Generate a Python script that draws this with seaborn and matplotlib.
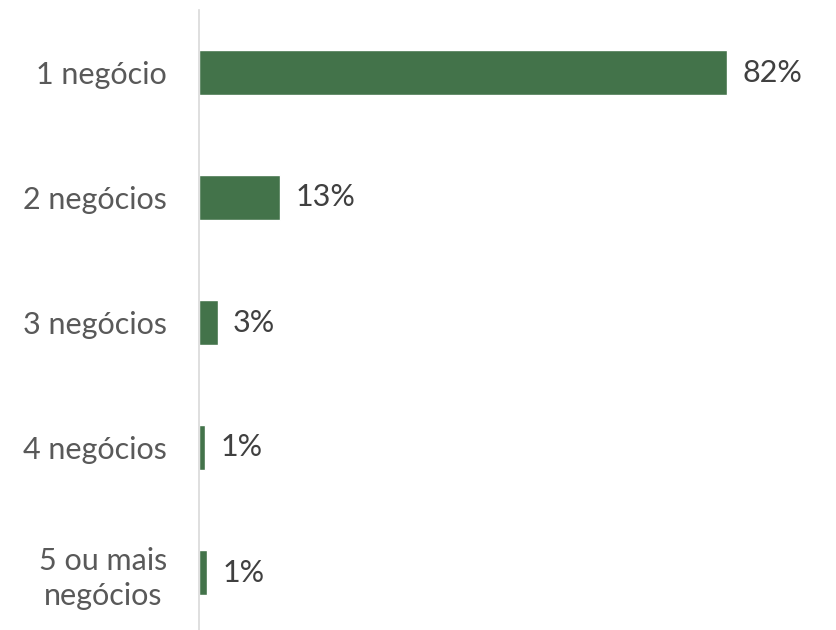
import pandas as pd
import seaborn as sns
import matplotlib.pyplot as plt

categories = ["1 negócio", "2 negócios", "3 negócios", "4 negócios", "5 ou mais\nnegócios"]
values = [82, 12.6, 2.9, 0.9, 1.2]
labels = ["82%", "13%", "3%", "1%", "1%"]

df = pd.DataFrame({"categoria": categories, "pct": values})

sns.set_theme(style="white")
plt.rcParams["font.family"] = ["Lato", "DejaVu Sans"]

fig = plt.figure(figsize=(8.36, 6.3), dpi=100)
ax = fig.add_axes([199 / 836, -5 / 630, 637 / 836, 625 / 630])

sns.barplot(data=df, y="categoria", x="pct", orient="h", color="#43734A",
            saturation=1, width=0.355, ax=ax)

ax.set_xlim(0, 98.9)
ax.set_ylim(4.5, -0.5)
ax.set_xlabel("")
ax.set_ylabel("")
ax.set_xticks([])
ax.tick_params(axis="y", length=0, pad=23, labelsize=22, labelcolor="#595959")
for lbl in ax.get_yticklabels():
    lbl.set_horizontalalignment("right")
    lbl.set_multialignment("center")
    lbl.set_linespacing(1.3)

for s in ["top", "right", "bottom"]:
    ax.spines[s].set_visible(False)
ax.spines["left"].set_color("#D9D9D9")
ax.spines["left"].set_linewidth(1.2)

for i, (v, t) in enumerate(zip(values, labels)):
    ax.text(v + 2.4, i, t, va="center", ha="left", fontsize=22, color="#404040")

fig.savefig("out.png", dpi=100)
